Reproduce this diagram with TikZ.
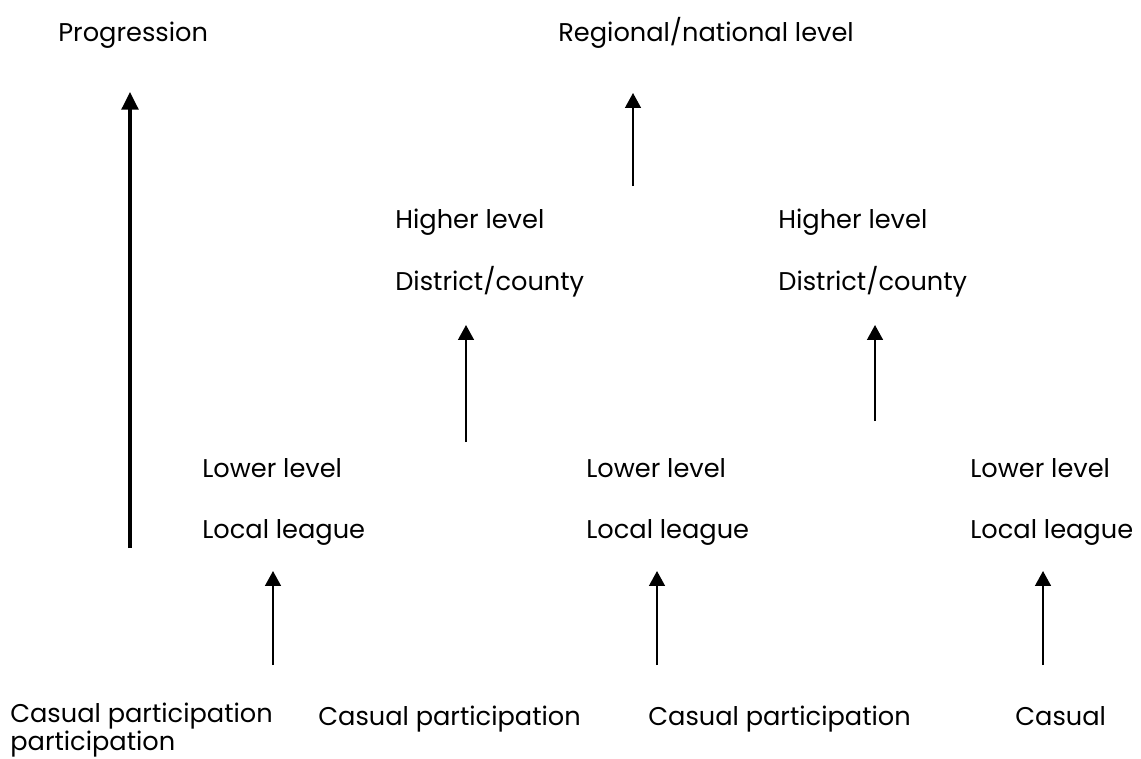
\documentclass[tikz,border=0pt]{standalone}
\usepackage{fontspec}
\setmainfont{Poppins}
\usepackage{tikz}
\usetikzlibrary{arrows.meta}

\begin{document}
\begin{tikzpicture}[
    x=0.02cm, y=-0.02cm,
    lbl/.style={anchor=base west, inner sep=0pt, font=\fontsize{14.6}{14.6}\selectfont},
    arr/.style={line width=1.1pt, -{Triangle[width=9pt, length=8.5pt]}},
    bigarr/.style={line width=1.8pt, -{Triangle[width=9.5pt, length=10pt]}}
]
\useasboundingbox (0,0) rectangle (1141,758);
% top row
\node[lbl] (prog) at (58,41) {Progression};
\node[lbl] (reg) at (558,41) {Regional/national level};
% middle row
\node[lbl] (hiA) at (395,228) {Higher level};
\node[lbl] (distA) at (395,290) {District/county};
\node[lbl] (hiB) at (778,228) {Higher level};
\node[lbl] (distB) at (778,290) {District/county};
% lower row
\node[lbl] (loA) at (202,477) {Lower level};
\node[lbl] (locA) at (202,538) {Local league};
\node[lbl] (loB) at (586,477) {Lower level};
\node[lbl] (locB) at (586,538) {Local league};
\node[lbl] (loC) at (970,477) {Lower level};
\node[lbl] (locC) at (970,538) {Local league};
% bottom row
\node[lbl, align=left] (casA) at (10,750) {Casual participation\\participation};
\node[lbl] (casB) at (318,725) {Casual participation};
\node[lbl] (casC) at (648,725) {Casual participation};
\node[lbl] (casD) at (1015,725) {Casual};
% arrow ends
\coordinate (pb) at (130,548);
\coordinate (pt) at (130,92);
\coordinate (rb) at (633,186);
\coordinate (rt) at (633,93);
\coordinate (ab) at (466,442);
\coordinate (at') at (466,325);
\coordinate (bb) at (875,421);
\coordinate (bt) at (875,325);
\coordinate (cb1) at (273,665);
\coordinate (ct1) at (273,571);
\coordinate (cb2) at (657,665);
\coordinate (ct2) at (657,571);
\coordinate (cb3) at (1043,665);
\coordinate (ct3) at (1043,571);
\draw[bigarr] (pb) -- (pt);
\draw[arr] (rb) -- (rt);
\draw[arr] (ab) -- (at');
\draw[arr] (bb) -- (bt);
\draw[arr] (cb1) -- (ct1);
\draw[arr] (cb2) -- (ct2);
\draw[arr] (cb3) -- (ct3);
\end{tikzpicture}
\end{document}
